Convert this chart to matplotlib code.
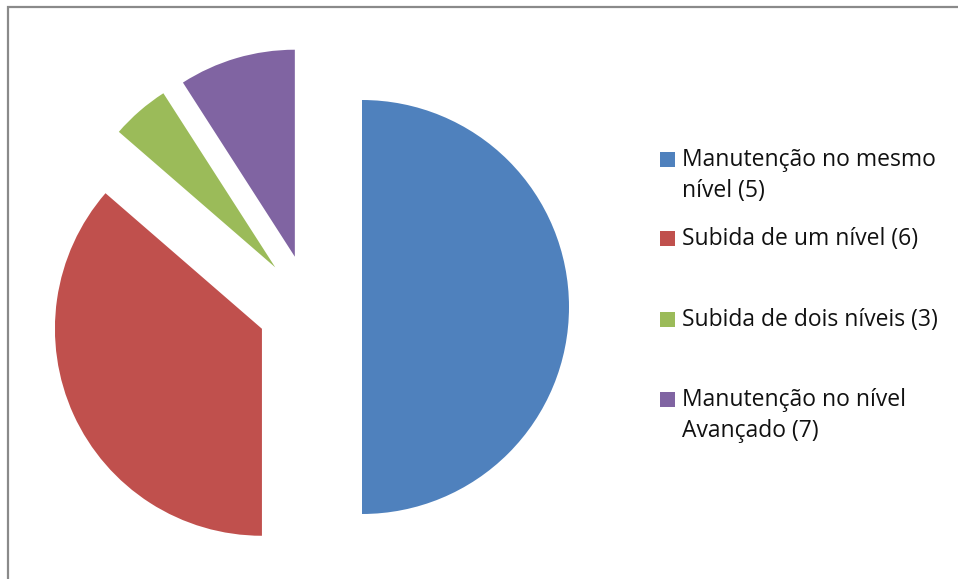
import matplotlib
matplotlib.use("Agg")
import matplotlib.pyplot as plt
from matplotlib.patches import Rectangle

# Data
labels = ["Manutenção no mesmo\nnível (5)",
          "Subida de um nível (6)",
          "Subida de dois níveis (3)",
          "Manutenção no nível\nAvançado (7)"]
values = [22, 16, 2, 4]
colors = ["#4F81BD", "#C0504D", "#9BBB59", "#8064A2"]

W, H = 958, 579
fig = plt.figure(figsize=(W / 100, H / 100), dpi=100)
ax = fig.add_axes([0, 0, 1, 1])

cx, cy, r = 309.6, H - 307, 207
ax.pie(values, colors=colors, startangle=90, counterclock=False,
       explode=[52.4] * len(values), radius=r, center=(cx, cy),
       wedgeprops=dict(linewidth=0), frame=True)
ax.set_xlim(0, W)
ax.set_ylim(0, H)
ax.set_aspect("equal")
ax.axis("off")

# chart frame
ax.add_patch(Rectangle((8, -10), W + 20, H - 6.5 + 10, fill=False,
                       edgecolor="#8a8a8a", linewidth=1.6, zorder=5))

# legend (manual)
first_baselines = [166, 245, 326, 406]
line_gap = 30.7
for lab, col, b in zip(labels, colors, first_baselines):
    ax.add_patch(Rectangle((660, H - b - 0.5), 15, 14.5,
                           facecolor=col, edgecolor="none", zorder=6))
    for i, line in enumerate(lab.split("\n")):
        ax.text(682, H - b - i * line_gap, line, fontsize=16.5,
                family="Open Sans", color="#111111", va="baseline", ha="left")

fig.savefig("out.png", dpi=100)
